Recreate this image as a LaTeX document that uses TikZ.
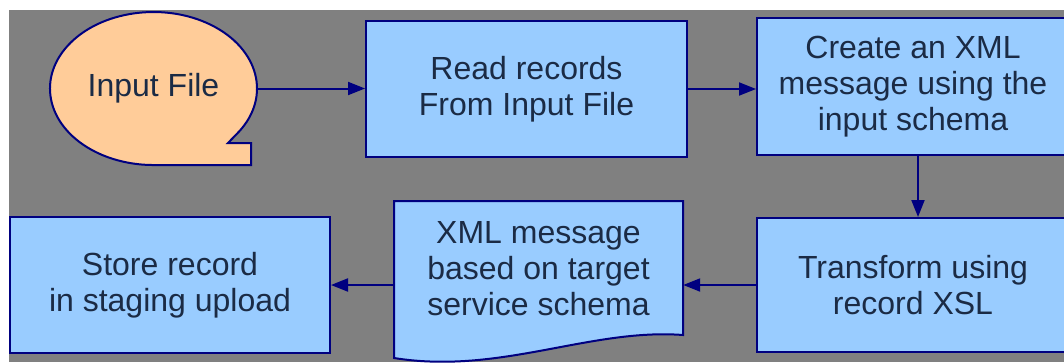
\documentclass[tikz,border=0pt]{standalone}
\usepackage{fontspec}
\setmainfont{Liberation Sans}
\usetikzlibrary{arrows.meta,shapes.geometric}
\definecolor{bg}{HTML}{808080}
\definecolor{boxfill}{HTML}{99CCFF}
\definecolor{blobfill}{HTML}{FFCC99}
\definecolor{navy}{HTML}{000080}
\definecolor{txt}{HTML}{1B2B45}
\begin{document}
\begin{tikzpicture}[x=1pt,y=-1pt,
  lbl/.style={text=txt, align=center, inner sep=0pt, font=\fontsize{32}{36}\selectfont},
  stepbox/.style={lbl, draw=navy, line width=2pt, fill=boxfill},
  outline/.style={draw=navy, line width=2pt},
  flow/.style={draw=navy, line width=2pt, -{Triangle[length=17pt,width=13pt]}}]
\useasboundingbox (0,0) rectangle (1064,362);
\clip (0,0) rectangle (1064,362);
\fill[bg] (9,10) rectangle (1064,362);
% Input file blob
\path[outline, fill=blobfill] (239.3,131.3) arc[start angle=34, end angle=-270, x radius=103.5, y radius=76.5]
  -- (251,165) -- (251,143) -- (228,143) -- cycle;
\node[lbl, ellipse, minimum width=207pt, minimum height=153pt] (inp) at (153.5,88.5) {Input File};
% Boxes
\node[stepbox, minimum width=321pt, minimum height=136pt] (read) at (526.5,89) {Read records\\From Input File};
\node[stepbox, minimum width=312pt, minimum height=137pt] (create) at (913,86.5) {Create an XML\\message using the\\input schema};
\node[stepbox, minimum width=312pt, minimum height=134pt] (trans) at (913,285) {Transform using\\record XSL};
\node[stepbox, minimum width=320pt, minimum height=136pt] (store) at (170,285) {Store record\\in staging upload};
% Document shape
\path[outline, fill=boxfill] (394,201) -- (683,201) -- (683,335)
  .. controls (590,328) and (500,375) .. (394,358) -- cycle;
\node[lbl, minimum width=289pt] (msg) at (538.5,269) {XML message\\based on target\\service schema};
% Connectors
\draw[flow] (inp.east) -- (inp.east -| read.west);
\draw[flow] (read.east) -- (read.east -| create.west);
\draw[flow] ([xshift=5pt]create.south) -- ([xshift=5pt]create.south |- trans.north);
\draw[flow] (trans.west) -- (trans.west -| msg.east);
\draw[flow] (msg.west |- store.east) -- (store.east);
\end{tikzpicture}
\end{document}
